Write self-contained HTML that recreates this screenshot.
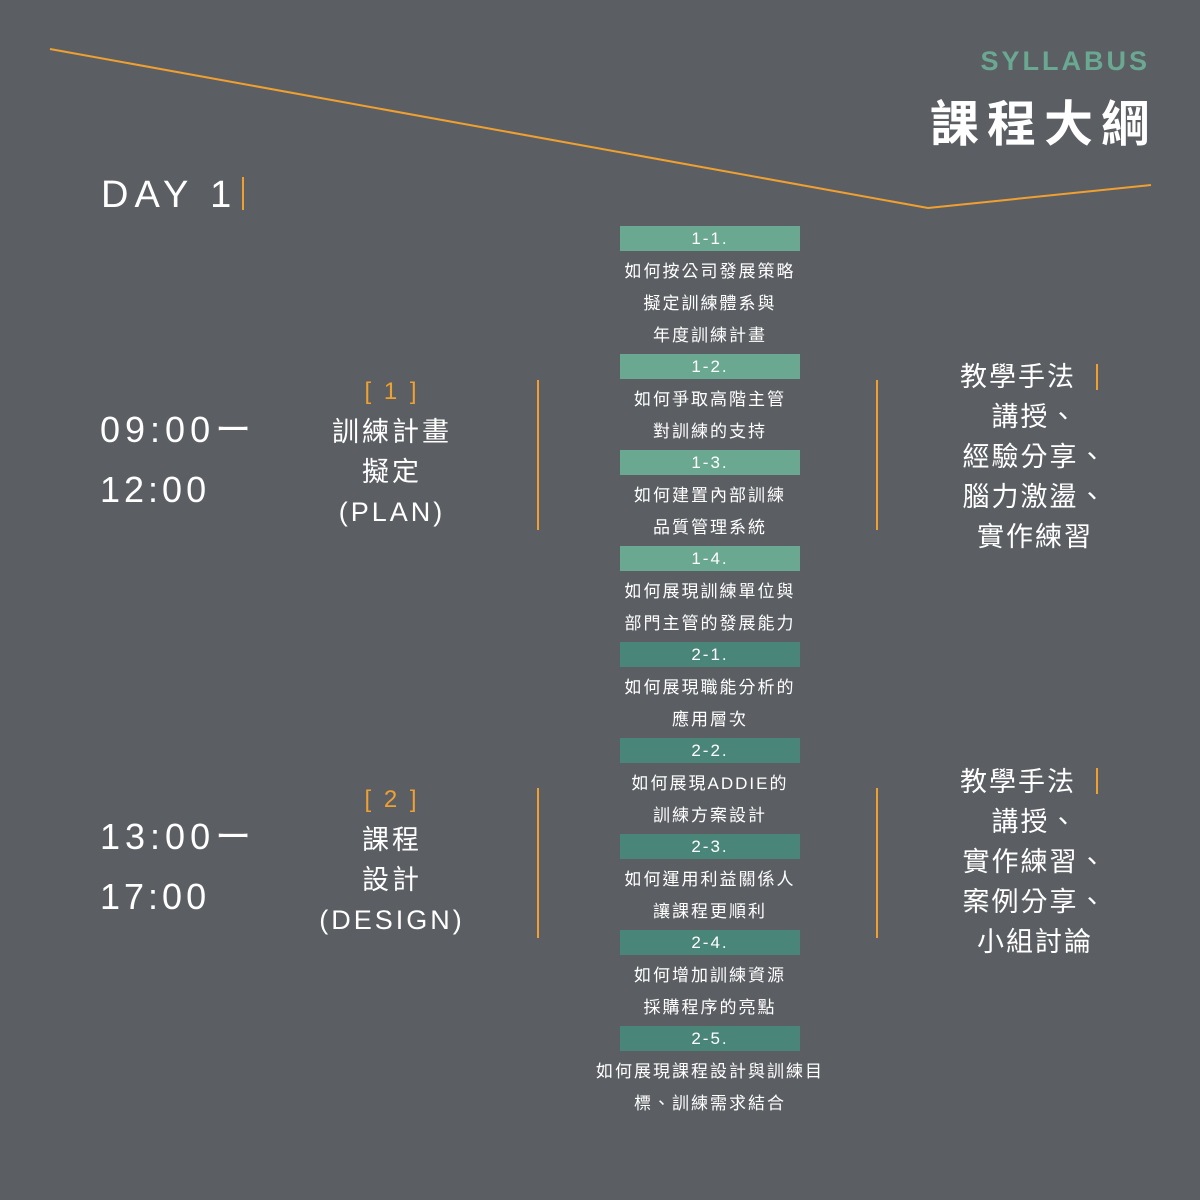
<!DOCTYPE html>
<html><head><meta charset="utf-8"><style>
*{margin:0;padding:0;box-sizing:border-box}
body{width:1200px;height:1200px;background:#5b5f63;position:relative;overflow:hidden;font-family:"Liberation Sans","Noto Sans CJK TC",sans-serif;color:#fff}
.a{position:absolute;white-space:nowrap}
.col{position:absolute;left:560px;width:300px;top:224px}
.col div{height:32px;line-height:32px;text-align:center;font-size:17px;letter-spacing:2px}
.col div.b{position:relative}
.col div.b span{position:absolute;left:60px;top:2px;width:180px;height:25px;line-height:25px;background:#6aa892;font-size:17px}
.col div.d span{background:#4a857a}
.vl{position:absolute;width:2px;background:#f0a030}
.rt{position:absolute;left:935px;width:200px;text-align:center;font-size:27px;line-height:40px;letter-spacing:2px}
.mid{position:absolute;left:292px;width:200px;text-align:center;font-size:27px;line-height:40px;letter-spacing:3px}
</style></head><body>
<svg class="a" style="left:0;top:0" width="1200" height="260"><polyline points="50,49 928,208 1151,185" fill="none" stroke="#f0a030" stroke-width="2"/></svg>
<div class="a" style="right:50px;top:46px;font-size:27px;font-weight:bold;letter-spacing:3px;color:#6aa892">SYLLABUS</div>
<div class="a" style="right:42px;top:92px;font-size:49px;font-weight:bold;letter-spacing:8px;line-height:66px">課程大綱</div>
<div class="a" style="left:101px;top:172px;font-size:38px;letter-spacing:6px;line-height:46px">DAY 1</div>
<div class="vl" style="left:242px;top:177px;height:33px"></div>

<div class="a" style="left:100px;top:408px;font-size:36px;letter-spacing:5px;line-height:44px">09:00ー</div>
<div class="a" style="left:100px;top:468px;font-size:36px;letter-spacing:4px;line-height:44px">12:00</div>
<div class="a" style="left:100px;top:815px;font-size:36px;letter-spacing:5px;line-height:44px">13:00ー</div>
<div class="a" style="left:100px;top:875px;font-size:36px;letter-spacing:4px;line-height:44px">17:00</div>

<div class="mid" style="top:370px"><span style="color:#f0a030;font-size:24px">[ 1 ]</span><br>訓練計畫<br>擬定<br>(PLAN)</div>
<div class="mid" style="top:778px"><span style="color:#f0a030;font-size:24px">[ 2 ]</span><br>課程<br>設計<br>(DESIGN)</div>

<div class="vl" style="left:537px;top:380px;height:150px"></div>
<div class="vl" style="left:876px;top:380px;height:150px"></div>
<div class="vl" style="left:537px;top:788px;height:150px"></div>
<div class="vl" style="left:876px;top:788px;height:150px"></div>

<div class="a" style="left:960px;top:357px;font-size:27px;line-height:40px;letter-spacing:2px">教學手法</div>
<div class="rt" style="top:397px">講授、<br>經驗分享、<br>腦力激盪、<br>實作練習</div>
<div class="vl" style="left:1096px;top:364px;height:26px"></div>
<div class="a" style="left:960px;top:762px;font-size:27px;line-height:40px;letter-spacing:2px">教學手法</div>
<div class="rt" style="top:802px">講授、<br>實作練習、<br>案例分享、<br>小組討論</div>
<div class="vl" style="left:1096px;top:768px;height:26px"></div>

<div class="col">
<div class="b"><span>1-1.</span></div>
<div>如何按公司發展策略</div><div>擬定訓練體系與</div><div>年度訓練計畫</div>
<div class="b"><span>1-2.</span></div>
<div>如何爭取高階主管</div><div>對訓練的支持</div>
<div class="b"><span>1-3.</span></div>
<div>如何建置內部訓練</div><div>品質管理系統</div>
<div class="b"><span>1-4.</span></div>
<div>如何展現訓練單位與</div><div>部門主管的發展能力</div>
<div class="b d"><span>2-1.</span></div>
<div>如何展現職能分析的</div><div>應用層次</div>
<div class="b d"><span>2-2.</span></div>
<div>如何展現ADDIE的</div><div>訓練方案設計</div>
<div class="b d"><span>2-3.</span></div>
<div>如何運用利益關係人</div><div>讓課程更順利</div>
<div class="b d"><span>2-4.</span></div>
<div>如何增加訓練資源</div><div>採購程序的亮點</div>
<div class="b d"><span>2-5.</span></div>
<div>如何展現課程設計與訓練目</div><div>標、訓練需求結合</div>
</div>
</body></html>
